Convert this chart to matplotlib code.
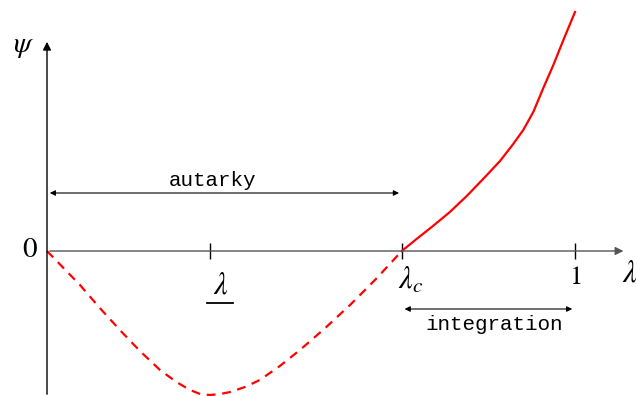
import matplotlib.pyplot as plt

plt.rcParams['mathtext.fontset'] = 'stix'

# curve (lambda, psi)
lam_dash = [0, 0.0625, 0.10, 0.138, 0.176, 0.214, 0.245, 0.271, 0.290, 0.309, 0.328, 0.347, 0.375, 0.403, 0.441, 0.479, 0.527, 0.574, 0.623, 0.672]
psi_dash = [0, -0.34, -0.57, -0.79, -1.00, -1.19, -1.31, -1.39, -1.43, -1.44, -1.43, -1.41, -1.36, -1.29, -1.15, -0.99, -0.77, -0.54, -0.28, 0]
lam_solid = [0.672, 0.700, 0.731, 0.763, 0.795, 0.826, 0.858, 0.883, 0.902, 0.921, 0.940, 0.959, 0.978, 1.0]
psi_solid = [0, 0.12, 0.25, 0.39, 0.55, 0.72, 0.90, 1.07, 1.21, 1.39, 1.63, 1.86, 2.11, 2.39]

ticks = [0.309, 0.672, 1.0]
tick_labels = [r'$\lambda$', r'$\lambda_c$', '$1$']
lam_c = 0.672

fig = plt.figure(figsize=(6.37, 3.96), dpi=100)
ax = fig.add_axes([0, 0, 1, 1])
ax.set_xlim(-47 / 528, 590 / 528)
ax.set_ylim(-1.45, 2.51)
ax.axis('off')

# axes with arrows
ax.annotate('', xy=(1.097, 0), xytext=(0, 0),
            arrowprops=dict(arrowstyle='-|>', color='#555555', lw=1.0, mutation_scale=12))
ax.annotate('', xy=(0, 2.12), xytext=(0, -1.46),
            arrowprops=dict(arrowstyle='-|>', color='black', lw=1.0, mutation_scale=12))

ax.vlines(ticks, -0.08, 0.08, color='black', lw=1.0)
label_dx = [0.021, 0.016, 0.0]
label_y = [-0.34, -0.29, -0.26]
label_size = [22, 22, 19]
for t, lab, dx, ly, fs in zip(ticks, tick_labels, label_dx, label_y, label_size):
    ax.text(t + dx, ly, lab, ha='center', va='center', fontsize=fs)
# underline for the lower bound
ax.plot([ticks[0] - 0.006, ticks[0] + 0.043], [-0.52, -0.52], color='black', lw=1.3)

ax.plot(lam_dash, psi_dash, color='red', lw=1.6, ls=(0, (4, 3)))
ax.plot(lam_solid, psi_solid, color='red', lw=1.6)

ax.text(-0.032, 0.02, '$0$', ha='center', va='center', fontsize=21)
ax.text(-0.045, 2.05, r'$\psi$', ha='center', va='center', fontsize=21)
ax.text(1.104, -0.22, r'$\lambda$', ha='center', va='center', fontsize=22)

# autarky / integration ranges
ax.annotate('', xy=(lam_c, 0.58), xytext=(0, 0.58),
            arrowprops=dict(arrowstyle='<|-|>', color='black', lw=0.8, mutation_scale=8))
ax.text(0.314, 0.71, 'autarky', ha='center', va='center', fontsize=15, family='Liberation Mono')
ax.annotate('', xy=(1.0, -0.58), xytext=(lam_c, -0.58),
            arrowprops=dict(arrowstyle='<|-|>', color='black', lw=0.8, mutation_scale=8))
ax.text(0.847, -0.74, 'integration', ha='center', va='center', fontsize=15, family='Liberation Mono')

fig.savefig('out.png', dpi=100)
